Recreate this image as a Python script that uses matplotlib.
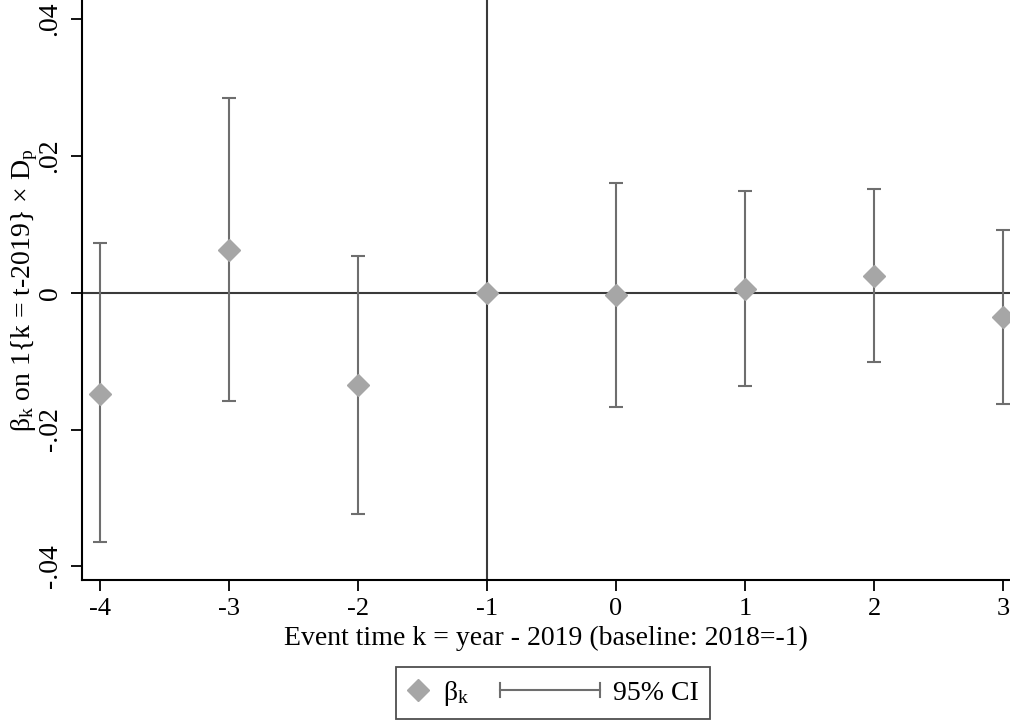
import matplotlib
matplotlib.use('Agg')
import matplotlib.pyplot as plt
import numpy as np
from matplotlib.lines import Line2D
from matplotlib.legend_handler import HandlerBase

plt.rcParams['font.family'] = ['Liberation Serif', 'DejaVu Serif']
plt.rcParams['mathtext.fontset'] = 'custom'
plt.rcParams['mathtext.rm'] = 'Liberation Serif'
plt.rcParams['mathtext.it'] = 'Liberation Serif:italic'

# event time and estimates
k = [-4, -3, -2, -1, 0, 1, 2, 3]
beta = [-0.0148, 0.0063, -0.0135, 0.0, -0.0003, 0.0006, 0.0025, -0.0035]
ci_lo = [-0.0365, -0.0159, -0.0323, np.nan, -0.0167, -0.0137, -0.0101, -0.0162]
ci_hi = [0.0072, 0.0285, 0.0054, np.nan, 0.0161, 0.0149, 0.0151, 0.0092]
yticks = [-0.04, -0.02, 0, 0.02, 0.04]
ytick_labels = ['-.04', '-.02', '0', '.02', '.04']

ci_col = '#6e6e6e'
pt_col = '#a6a6a6'


class HandlerCI(HandlerBase):
    # horizontal CI bar with caps, drawn leftwards into the column gap
    def create_artists(self, legend, orig_handle, xdescent, ydescent, width, height,
                       fontsize, trans):
        y = height / 2 - ydescent
        x1 = width - xdescent
        x0 = x1 - 72
        c = 5
        arts = [Line2D([x0, x1], [y, y]), Line2D([x0, x0], [y - c, y + c]),
                Line2D([x1, x1], [y - c, y + c])]
        for a in arts:
            a.set_color(ci_col)
            a.set_linewidth(1.5)
            a.set_transform(trans)
        return arts


fig = plt.figure(figsize=(10.1, 7.21), dpi=100)
ax = fig.add_axes([0.0812, 0.1956, 0.9188, 0.8044])

b = np.array(beta)
lo = np.array(ci_lo)
hi = np.array(ci_hi)
ok = ~np.isnan(lo)
kk = np.array(k)

ax.axhline(0, color='#3a3a3a', lw=1.5, zorder=1)
ax.axvline(-1, color='#3a3a3a', lw=1.5, zorder=1)

ax.errorbar(kk[ok], (lo[ok] + hi[ok]) / 2, yerr=(hi[ok] - lo[ok]) / 2, fmt='none',
            ecolor=ci_col, elinewidth=1.5, capsize=5, capthick=1.5, zorder=2)
pts, = ax.plot(kk, b, ls='none', marker='D', ms=11, color=pt_col, mec=pt_col, zorder=3)

ax.set_xlim(-4.14, 3.054)
ax.set_ylim(-0.042, 0.0428)
ax.set_xticks(k)
ax.set_xticklabels([str(v) for v in k])
ax.set_yticks(yticks)
ax.set_yticklabels(ytick_labels, rotation=90, va='center')

for s in ['top', 'right']:
    ax.spines[s].set_visible(False)
for s in ['left', 'bottom']:
    ax.spines[s].set_linewidth(1.5)
ax.tick_params(axis='both', direction='out', length=8, width=1.3, labelsize=20)
ax.tick_params(axis='x', pad=5, labelsize=19)
ax.tick_params(axis='y', pad=6)

ax.set_xlabel('Event time k = year - 2019 (baseline: 2018=-1)', fontsize=20, labelpad=4)
ax.set_ylabel(r'β$_\mathrm{k}$ on 1{k = t-2019} × D$_\mathrm{p}$', fontsize=20)
ax.yaxis.set_label_coords(-0.045, 0.5)

ci_handle = Line2D([], [], color=ci_col)
leg = fig.legend([pts, ci_handle], [r'β$_\mathrm{k}$', '95% CI'], loc='center',
                 bbox_to_anchor=(0.5475, 0.0388), ncol=2, fontsize=20,
                 handler_map={ci_handle: HandlerCI()},
                 frameon=True, fancybox=False, edgecolor='#222222',
                 borderpad=0.4, handlelength=0.8, columnspacing=3.9, handletextpad=0.5)
leg.get_frame().set_linewidth(1.3)

fig.savefig('out.png', dpi=100)
